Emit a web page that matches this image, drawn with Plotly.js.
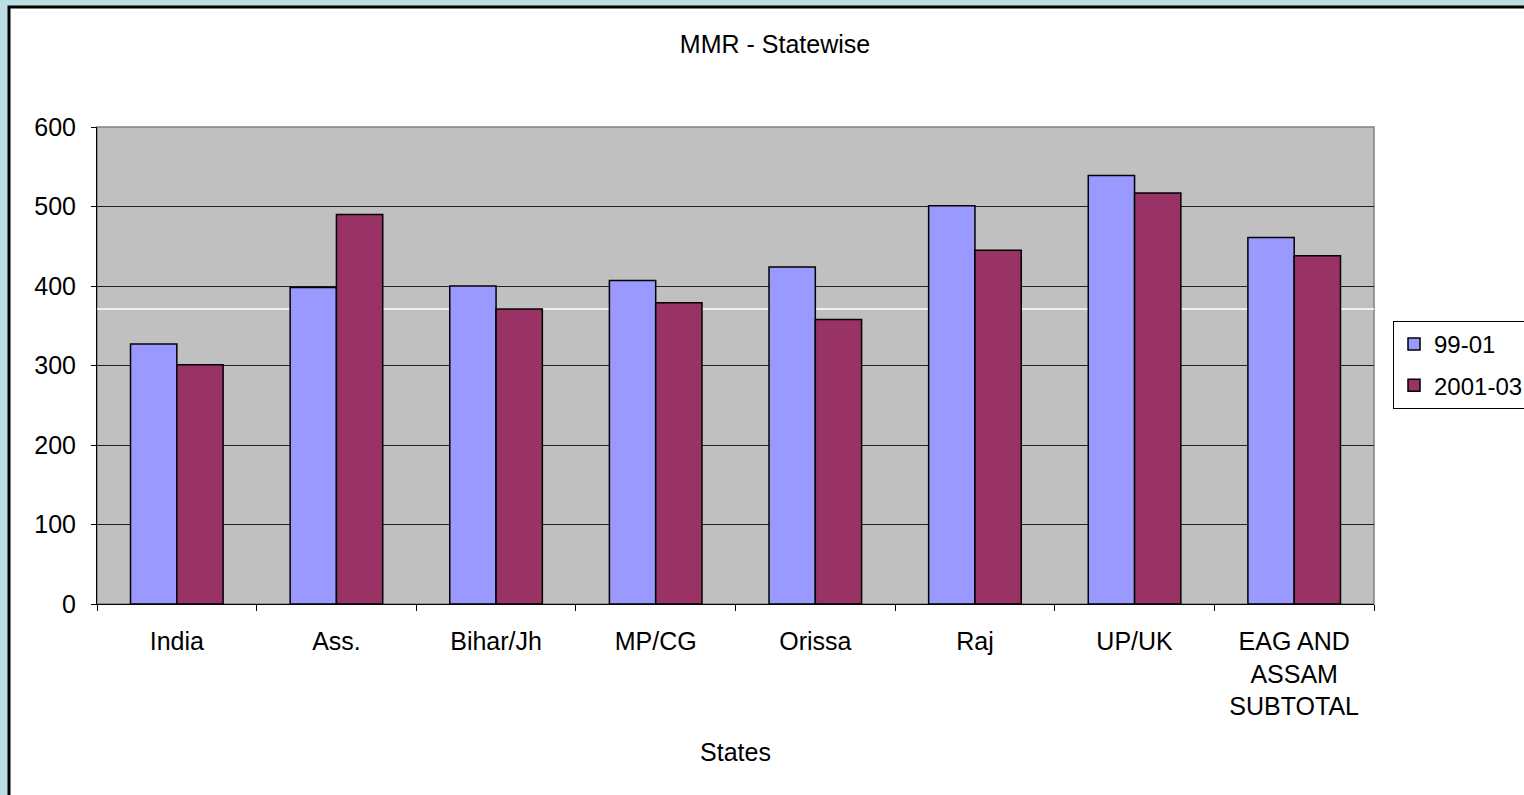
<!DOCTYPE html>
<html>
<head>
<meta charset="utf-8">
<script src="https://cdn.plot.ly/plotly-3.0.1.min.js"></script>
<style>
  html, body { margin: 0; padding: 0; background: #BBDFE2; overflow: hidden; }
  #chart { width: 1524px; height: 795px; }
</style>
</head>
<body>
<div id="chart"></div>
<script>
// Maternal mortality ratio by state, two survey periods
const states = ["India", "Ass.", "Bihar/Jh", "MP/CG", "Orissa", "Raj", "UP/UK", "EAG AND<br>ASSAM<br>SUBTOTAL"];
const mmr9901 = [327, 398, 400, 407, 424, 501, 539, 461];
const mmr200103 = [301, 490, 371, 379, 358, 445, 517, 438];
const seriesNames = ["99-01", "2001-03"];
const refLine = 371;

const FONT = "Arial, 'Liberation Sans', sans-serif";
const FS = 25;

// plot area in pixels: x 97..1374, y 127..604
const L = 97, R = 1374, T = 127, B = 604, W = 1524, H = 795;
const px = v => (v - L) / (R - L);
const py = v => (B - v) / (B - T);

const traces = [
  {
    type: "bar", name: seriesNames[0], x: states, y: mmr9901,
    marker: { color: "#9999FF", line: { color: "#000000", width: 1.5 } },
    legendgroup: "a", hoverinfo: "x+y+name"
  },
  {
    type: "bar", name: seriesNames[1], x: states, y: mmr200103,
    marker: { color: "#993366", line: { color: "#000000", width: 1.5 } },
    legendgroup: "b", hoverinfo: "x+y+name"
  }
];

const layout = {
  width: W, height: H,
  margin: { l: L, r: W - R, t: T, b: H - B, pad: 0 },
  paper_bgcolor: "#BBDFE2",
  plot_bgcolor: "rgba(0,0,0,0)",
  font: { family: FONT, size: FS, color: "#000000" },
  title: {
    text: "MMR - Statewise",
    font: { family: FONT, size: FS, color: "#000000" },
    xref: "container", yref: "container",
    x: 775 / W, xanchor: "center",
    y: 1 - 44 / H, yanchor: "middle"
  },
  barmode: "group",
  bargap: 0.42,
  bargroupgap: 0,
  showlegend: true,
  legend: {
    xref: "container", yref: "container",
    x: 1393 / W, xanchor: "left",
    y: 1 - 321 / H, yanchor: "top",
    bgcolor: "#FFFFFF",
    bordercolor: "#000000", borderwidth: 1,
    font: { family: FONT, size: 24, color: "#000000" },
    tracegroupgap: 7,
    itemwidth: 30
  },
  xaxis: {
    type: "category",
    tickson: "boundaries",
    ticks: "outside", ticklen: 6, tickcolor: "#000000", tickwidth: 1,
    showline: true, linecolor: "#000000", linewidth: 1,
    showgrid: false, zeroline: false,
    tickfont: { family: FONT, size: FS, color: "#000000" },
    ticklabelstandoff: 15,
    title: { text: "States", font: { family: FONT, size: FS, color: "#000000" }, standoff: 24 },
    automargin: false
  },
  yaxis: {
    range: [0, 600],
    dtick: 100, tick0: 0,
    ticks: "outside", ticklen: 5, tickcolor: "#000000", tickwidth: 1,
    showline: true, linecolor: "#000000", linewidth: 1,
    showgrid: true, gridcolor: "#222222", gridwidth: 1,
    zeroline: false,
    tickfont: { family: FONT, size: FS, color: "#000000" },
    ticklabelstandoff: 10,
    automargin: false
  },
  shapes: [
    // white chart frame with black border
    {
      type: "rect", xref: "paper", yref: "paper", layer: "below",
      x0: px(9), x1: px(1700), y0: py(7), y1: py(900),
      fillcolor: "#FFFFFF", line: { color: "#000000", width: 3 }
    },
    // grey plot area
    {
      type: "rect", xref: "paper", yref: "paper", layer: "below",
      x0: 0, x1: 1, y0: 0, y1: 1,
      fillcolor: "#C0C0C0", line: { color: "#808080", width: 1.5 }
    },
    // white reference line behind the bars
    {
      type: "line", xref: "paper", yref: "y", layer: "below",
      x0: 0, x1: 1, y0: refLine, y1: refLine,
      line: { color: "#FFFFFF", width: 1.5 }
    }
  ]
};

Plotly.newPlot("chart", traces, layout, { displayModeBar: false, staticPlot: true });
</script>
</body>
</html>
